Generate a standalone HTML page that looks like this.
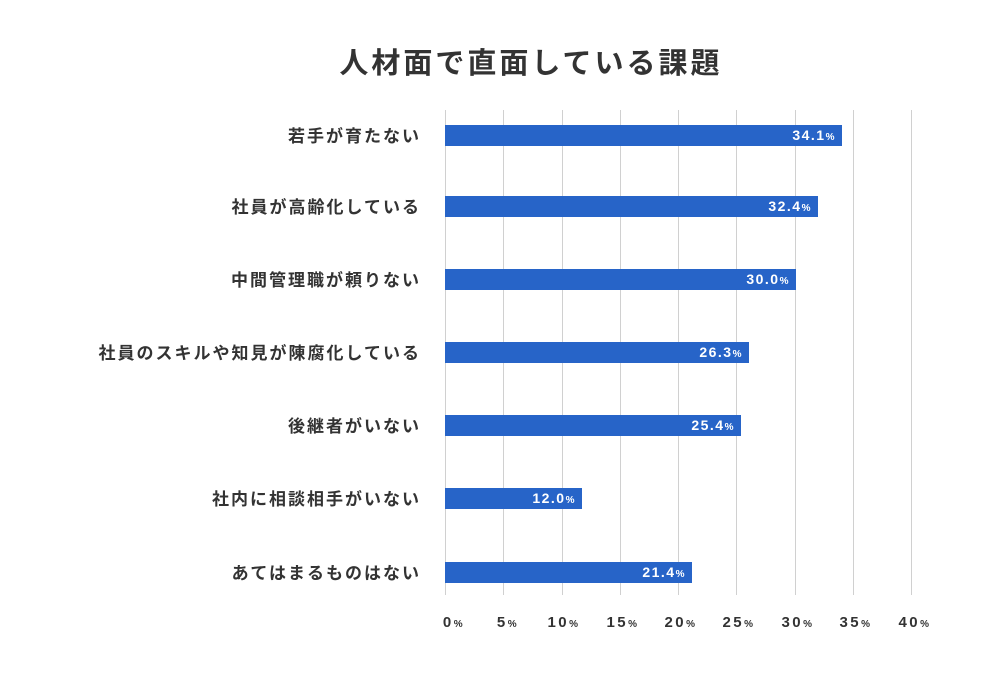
<!DOCTYPE html>
<html><head><meta charset="utf-8"><style>
body{margin:0;width:1000px;height:690px;background:#fff;font-family:"Liberation Sans","Noto Sans CJK JP",sans-serif;position:relative;overflow:hidden;color:#333}
.t{position:absolute;left:0;width:1062px;top:40px;text-align:center;font-size:29px;font-weight:bold;letter-spacing:3px;color:#333}
.g{position:absolute;top:110px;height:485px;width:1px;background:#d0d0d0}
.b{position:absolute;left:445px;height:21px;background:#2764c8;color:#fff;font-weight:bold;font-size:14px;text-align:right;line-height:21px;letter-spacing:1.5px;box-sizing:border-box;padding-right:6px}
.b small,.x small{font-size:10px}
.l{position:absolute;right:579px;font-size:17px;font-weight:bold;letter-spacing:2px;white-space:nowrap;color:#333}
.x{position:absolute;top:614px;width:60px;text-align:center;font-size:15px;font-weight:bold;letter-spacing:2.5px;color:#333}
</style></head><body>
<div class="t">人材面で直面している課題</div>
<div class="g" style="left:445px"></div><div class="g" style="left:503px"></div><div class="g" style="left:562px"></div><div class="g" style="left:620px"></div><div class="g" style="left:678px"></div><div class="g" style="left:736px"></div><div class="g" style="left:795px"></div><div class="g" style="left:853px"></div><div class="g" style="left:911px"></div>
<div class="b" style="top:125px;width:397px">34.1<small>%</small></div>
<div class="b" style="top:196px;width:373px">32.4<small>%</small></div>
<div class="b" style="top:269px;width:351px">30.0<small>%</small></div>
<div class="b" style="top:342px;width:304px">26.3<small>%</small></div>
<div class="b" style="top:415px;width:296px">25.4<small>%</small></div>
<div class="b" style="top:488px;width:137px">12.0<small>%</small></div>
<div class="b" style="top:562px;width:247px">21.4<small>%</small></div>
<div class="l" style="top:122px">若手が育たない</div>
<div class="l" style="top:193px">社員が高齢化している</div>
<div class="l" style="top:266px">中間管理職が頼りない</div>
<div class="l" style="top:339px">社員のスキルや知見が陳腐化している</div>
<div class="l" style="top:412px">後継者がいない</div>
<div class="l" style="top:485px">社内に相談相手がいない</div>
<div class="l" style="top:559px">あてはまるものはない</div>
<div class="x" style="left:424px">0<small>%</small></div>
<div class="x" style="left:478px">5<small>%</small></div>
<div class="x" style="left:534px">10<small>%</small></div>
<div class="x" style="left:593px">15<small>%</small></div>
<div class="x" style="left:651px">20<small>%</small></div>
<div class="x" style="left:709px">25<small>%</small></div>
<div class="x" style="left:768px">30<small>%</small></div>
<div class="x" style="left:826px">35<small>%</small></div>
<div class="x" style="left:885px">40<small>%</small></div>
</body></html>
